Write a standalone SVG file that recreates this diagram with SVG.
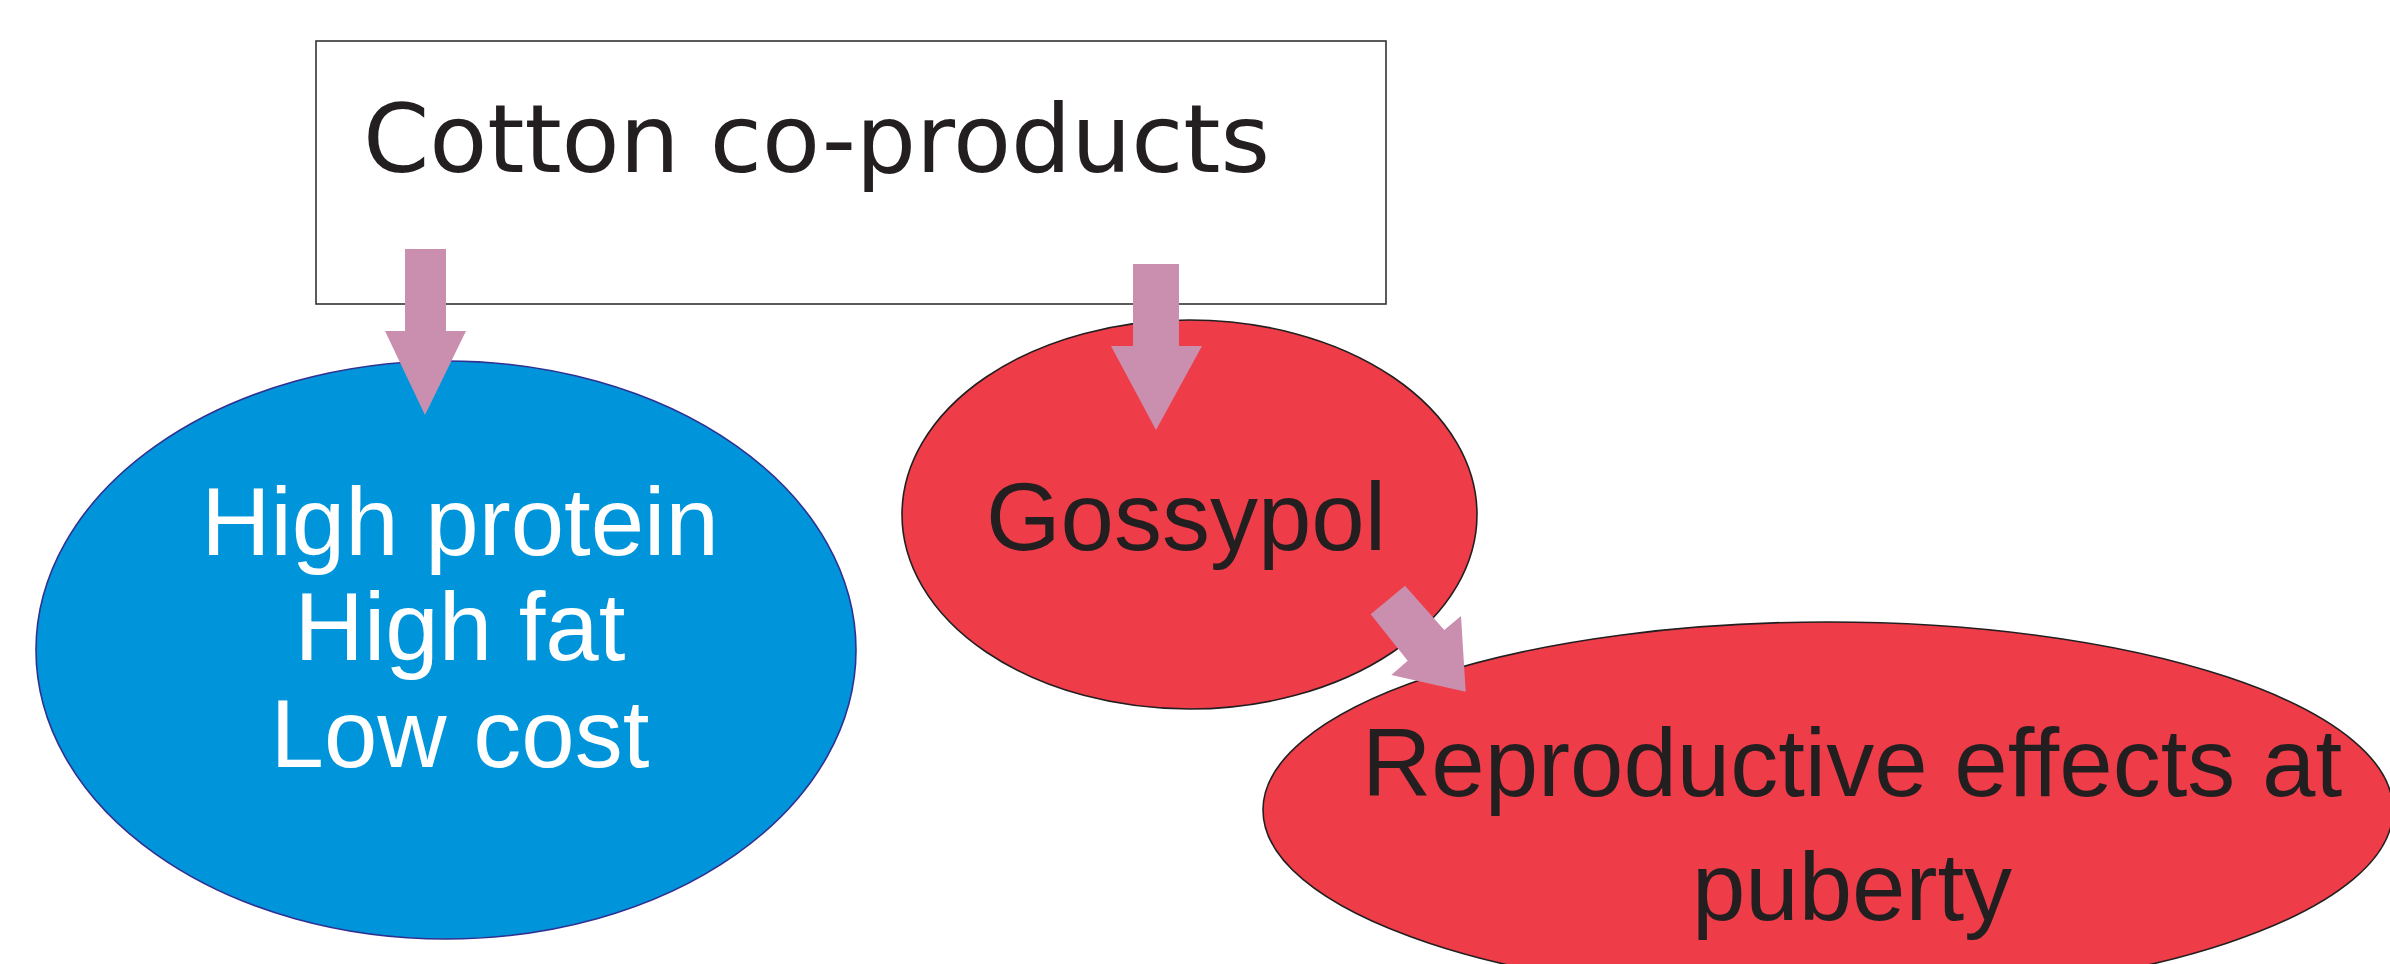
<svg xmlns="http://www.w3.org/2000/svg" width="2390" height="964" viewBox="0 0 2390 964">
<style>
.arrow{fill:#CA8FAE}
.lbl{font-family:"Liberation Sans",Arial,sans-serif;font-size:96px;text-anchor:middle}
.dark{fill:#231F20}
</style>
<rect width="2390" height="964" fill="#FFFFFF"/>
<g id="node-cotton">
<rect x="316" y="41" width="1070" height="263" fill="#FFFFFF" stroke="#333333" stroke-width="1.6"/>
<text x="363" y="172" font-family="'DejaVu Sans',sans-serif" font-size="95" textLength="907" fill="#231F20">Cotton co-products</text>
</g>
<g id="node-nutrition">
<ellipse cx="446" cy="650" rx="410" ry="289" fill="#0095DA" stroke="#2E3192" stroke-width="1.6"/>
<text class="lbl" fill="#FFFFFF"><tspan x="460" y="555">High protein</tspan><tspan x="460" y="660">High fat</tspan><tspan x="460" y="767">Low cost</tspan></text>
</g>
<g id="node-gossypol">
<ellipse cx="1189.5" cy="514.5" rx="287.5" ry="194.5" fill="#EE3D48" stroke="#231F20" stroke-width="1.6"/>
<text class="lbl dark" x="1186" y="550">Gossypol</text>
</g>
<g id="node-repro">
<ellipse cx="1828" cy="810" rx="565" ry="188" fill="#EE3D48" stroke="#231F20" stroke-width="1.6"/>
<text class="lbl dark"><tspan x="1852" y="796">Reproductive effects at</tspan><tspan x="1852" y="920">puberty</tspan></text>
</g>
<g id="connectors">
<polygon class="arrow" points="405,249 446,249 446,331 466,331 425,415 385,331 405,331"/>
<polygon class="arrow" points="1133,264 1179,264 1179,346 1202,346 1156,430 1111,346 1133,346"/>
<polygon class="arrow" points="1370.7,614.3 1405,585.7 1444.3,630 1461,616 1465.7,691.7 1391.3,675 1407.7,660.7"/>
</g>
</svg>
